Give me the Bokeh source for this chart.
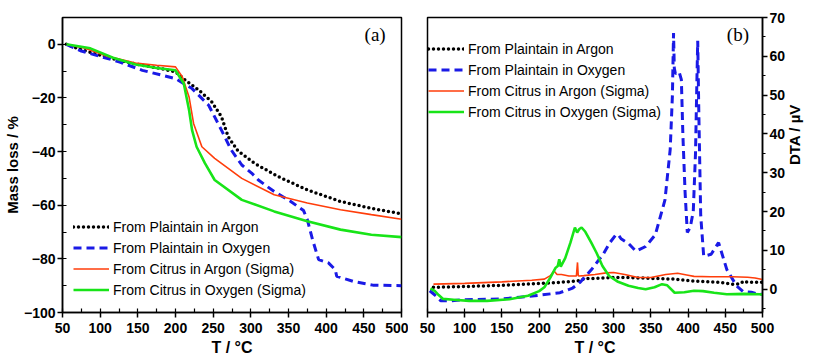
import math
from bokeh.plotting import figure
from bokeh.layouts import row
from bokeh.models import Range1d, SingleIntervalTicker, Label, Legend, LegendItem
from bokeh.embed import file_html
from bokeh.resources import INLINE

# ---------------- Panel (a): TGA mass loss ----------------
a_T_plain_ar = [55, 75, 100, 125, 156, 180, 200, 213, 231, 248, 261, 270, 283, 305, 336, 375, 419, 462, 500]
a_plain_ar = [0, -2, -4, -6, -7.8, -9, -10.3, -13.4, -17.1, -21.4, -27, -34.5, -39.8, -44.4, -49.3, -54.3, -58.6, -61.3, -63.2]

a_T_plain_ox = [55, 75, 100, 126, 156, 200, 222, 244, 261, 274, 288, 301, 310, 331, 353, 370, 375, 382, 390, 403, 412, 414, 436, 462, 500]
a_plain_ox = [0, -2.5, -4.5, -6.6, -9.7, -12.8, -16.5, -22.7, -32, -39.4, -45, -48, -50.6, -54.9, -58.6, -62, -65.4, -72.9, -80.3, -81.5, -84, -86.5, -88.4, -89.8, -90]

a_T_cit_ar = [55, 80, 110, 147, 175, 200, 209, 218, 224, 235, 252, 288, 331, 375, 419, 460, 500]
a_cit_ar = [0, -1.5, -4.5, -7.0, -7.8, -8.4, -12.1, -19.6, -29.5, -38.2, -42.5, -50.0, -56.1, -59.2, -61.7, -63.5, -65.2]

a_T_cit_ox = [55, 87, 117, 147, 175, 200, 211, 218, 222, 228, 239, 252, 288, 331, 375, 419, 460, 500]
a_cit_ox = [0, -1.5, -5, -7.5, -8.8, -9.7, -14.6, -24.5, -32, -38.2, -44.3, -50.6, -58, -62.3, -66, -69.1, -71, -71.9]

# ---------------- Panel (b): DTA ----------------
b_T_plain_ar = [58, 100, 150, 200, 230, 251, 261, 277, 300, 320, 350, 380, 408, 440, 460, 470, 475, 480, 490, 500]
b_plain_ar = [0.5, 0.7, 1.0, 1.5, 1.8, 2.1, 2.7, 2.8, 3.0, 3.0, 2.8, 2.6, 2.1, 1.8, 1.3, 1.4, 2.1, 1.8, 1.8, 1.8]

b_T_plain_ox = [53, 60, 68, 80, 100, 150, 194, 228, 245, 255, 270, 286, 295, 303, 306, 310, 320, 330, 343, 356, 369,
                376, 379, 380.5, 381.5, 383, 388, 391, 393, 396, 399, 403, 407, 410, 412, 413, 414.5, 417, 421,
                431, 441, 452, 465, 474, 485, 496, 500]
b_plain_ox = [-0.4, -1.5, -3.0, -3.0, -2.7, -2.5, -1.7, -0.9, 0.3, 1.8, 5, 9, 12, 14, 14.1, 13, 11.8, 9.8, 11, 14, 23,
              36, 50, 66, 57, 55.5, 56, 54, 40, 25, 14.6, 16, 20, 35, 55, 64, 45, 19, 8.5,
              9, 12, 5.1, 0.9, -0.6, -0.8, -1.3, -1.3]

b_T_cit_ar = [58, 100, 150, 190, 207, 215, 220, 224, 230, 240, 250, 251.5, 252.5, 254, 260, 275, 290, 300, 315, 333,
              350, 370, 386, 400, 408, 430, 460, 480, 490, 500]
b_cit_ar = [1.3, 1.5, 1.9, 2.3, 2.6, 3.5, 4.7, 3.8, 3.8, 3.4, 3.4, 6.9, 3.5, 3.4, 3.5, 3.8, 4.2, 4.3, 3.8, 3.0,
            3.0, 3.8, 4.1, 3.6, 3.3, 3.2, 3.2, 3.1, 2.9, 2.5]

b_T_cit_ox = [54, 60, 65, 71, 85, 106, 130, 160, 185, 200, 207, 215, 222, 225, 227, 229, 235, 242, 248, 251, 254, 257,
              262, 270, 277, 285, 294, 305, 320, 333, 343, 355, 365, 372, 382, 395, 408, 420, 435, 452, 475, 496, 500]
b_cit_ox = [0.2, -0.5, -1.5, -2.5, -2.7, -3.0, -3.0, -2.6, -1.7, -0.5, 0.5, 3, 5.5, 6, 7.7, 5.8, 8, 12, 15.9, 14.6, 15.5, 15.9,
            14.8, 12, 9.4, 6, 3.4, 2, 0.9, 0.3, 0, 0.5, 1.3, 1.0, -0.9, -0.8, -0.4, -0.5, -0.9, -1.3, -1.2, -1.3, -1.4]

names = ["From Plaintain in Argon", "From Plaintain in Oxygen",
         "From Citrus in Argon (Sigma)", "From Citrus in Oxygen (Sigma)"]

BLACK = "#000000"
BLUE = "#1a1ae6"
ORANGE = "#ff3d0a"
GREEN = "#18e418"

FONT = "Liberation Sans"


def style_axis(ax, minor_out=False, label_standoff=3, title_standoff=0):
    ax.axis_line_width = 1.5
    ax.axis_line_color = "black"
    ax.major_tick_line_color = "black"
    ax.minor_tick_line_color = "black"
    ax.major_tick_line_width = 1.5
    ax.minor_tick_line_width = 1.2
    ax.major_tick_out = 5
    ax.major_tick_in = 0
    if minor_out:
        ax.minor_tick_out = 3
        ax.minor_tick_in = 0
    else:
        ax.minor_tick_out = 0
        ax.minor_tick_in = 4
    ax.major_label_text_font = FONT
    ax.major_label_text_font_style = "bold"
    ax.major_label_text_font_size = "14px"
    ax.major_label_text_color = "black"
    ax.major_label_standoff = label_standoff
    ax.axis_label_text_font = FONT
    ax.axis_label_text_font_style = "bold"
    ax.axis_label_text_font_size = "16px"
    ax.axis_label_text_color = "black"
    ax.axis_label_standoff = title_standoff


def add_lines(p, data):
    T1, v1, T2, v2, T3, v3, T4, v4 = data
    r1 = p.line(T1, v1, line_color=BLACK, line_width=3.5, line_dash="0 5", line_cap="round")
    r2 = p.line(T2, v2, line_color=BLUE, line_width=3, line_dash="8 5")
    r3 = p.line(T3, v3, line_color=ORANGE, line_width=1.6)
    r4 = p.line(T4, v4, line_color=GREEN, line_width=2.6)
    return [r1, r2, r3, r4]


def make_legend(renderers, loc):
    leg = Legend(items=[LegendItem(label=n, renderers=[r]) for n, r in zip(names, renderers)],
                 location=loc)
    leg.border_line_color = None
    leg.background_fill_alpha = 0
    leg.padding = 0
    leg.margin = 0
    leg.spacing = 0
    leg.glyph_width = 36
    leg.glyph_height = 21
    leg.label_height = 21
    leg.label_standoff = 4
    leg.label_text_font = FONT
    leg.label_text_font_size = "14px"
    leg.label_text_color = "black"
    return leg


H = 358

# ---------- figure a ----------
p1 = figure(width=408, height=H, output_backend="svg", toolbar_location=None,
            x_range=Range1d(50, 500), y_range=Range1d(-100, 10),
            min_border_left=55, min_border_right=7, min_border_top=17, min_border_bottom=H - 313)
p1.xgrid.visible = False
p1.ygrid.visible = False
p1.outline_line_color = "black"
p1.outline_line_width = 1.5
p1.xaxis.ticker = SingleIntervalTicker(interval=50, num_minor_ticks=2)
p1.yaxis.ticker = SingleIntervalTicker(interval=20, num_minor_ticks=2)
p1.xaxis.axis_label = "T / °C"
p1.yaxis.axis_label = "Mass loss / %"
style_axis(p1.xaxis[0], label_standoff=5, title_standoff=3)
style_axis(p1.yaxis[0], label_standoff=2, title_standoff=0)
p1.yaxis[0].axis_label_text_font_size = "15px"
rs1 = add_lines(p1, [a_T_plain_ar, a_plain_ar, a_T_plain_ox, a_plain_ox,
                     a_T_cit_ar, a_cit_ar, a_T_cit_ox, a_cit_ox])
p1.add_layout(make_legend(rs1, (11, 12)), "center")
p1.add_layout(Label(x=465, y=3.7, text="(a)", text_font="Liberation Serif", text_font_size="19px",
                    text_color="black", text_align="center", text_baseline="middle"))

# ---------- figure b ----------
p2 = figure(width=406, height=H, output_backend="svg", toolbar_location=None,
            x_range=Range1d(50, 500), y_range=Range1d(-6, 70), y_axis_location="right",
            min_border_left=19, min_border_right=44, min_border_top=17, min_border_bottom=H - 313)
p2.xgrid.visible = False
p2.ygrid.visible = False
p2.outline_line_color = "black"
p2.outline_line_width = 1.5
p2.xaxis.ticker = SingleIntervalTicker(interval=50, num_minor_ticks=2)
p2.yaxis.ticker = SingleIntervalTicker(interval=10, num_minor_ticks=2)
p2.xaxis.axis_label = "T / °C"
p2.yaxis.axis_label = "DTA / µV"
style_axis(p2.xaxis[0], label_standoff=5, title_standoff=3)
style_axis(p2.yaxis[0], minor_out=True, label_standoff=2, title_standoff=6)
p2.yaxis[0].axis_label_text_font_size = "15px"
# the original's right-hand title reads bottom-to-top
try:
    p2.yaxis[0].axis_label_orientation = math.pi / 2
    p2.yaxis[0].axis_label_text_align = "center"
except Exception:
    pass
rs2 = add_lines(p2, [b_T_plain_ar, b_plain_ar, b_T_plain_ox, b_plain_ox,
                     b_T_cit_ar, b_cit_ar, b_T_cit_ox, b_cit_ox])
p2.add_layout(make_legend(rs2, (1, 190)), "center")
p2.add_layout(Label(x=467, y=65.6, text="(b)", text_font="Liberation Serif", text_font_size="19px",
                    text_color="black", text_align="center", text_baseline="middle"))

layout = row(p1, p2)
open("out.html", "w").write(file_html(layout, INLINE))
